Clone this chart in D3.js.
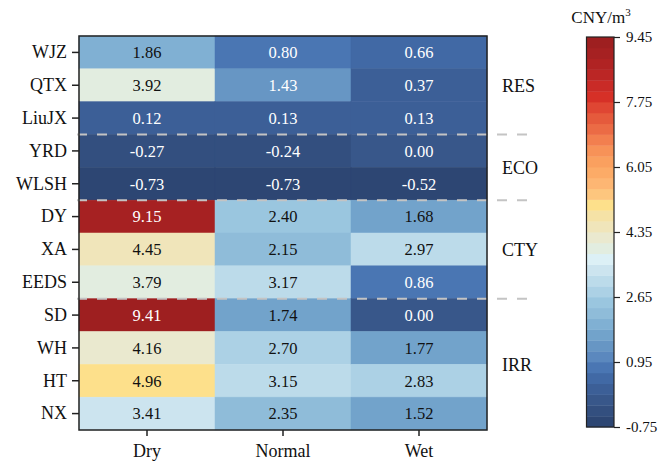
<!DOCTYPE html>
<html>
<head>
<meta charset="utf-8">
<script src="https://cdn.jsdelivr.net/npm/d3@7"></script>
<style>
  html, body { margin: 0; padding: 0; background: #fff; }
  svg { display: block; }
  text { font-family: "Liberation Serif", "Times New Roman", serif; }
</style>
</head>
<body>
<svg id="chart" width="672" height="464"></svg>
<script>
// ---------- data ----------
const rows = ["WJZ", "QTX", "LiuJX", "YRD", "WLSH", "DY", "XA", "EEDS", "SD", "WH", "HT", "NX"];
const cols = ["Dry", "Normal", "Wet"];
const dryValues    = [1.86, 3.92, 0.12, -0.27, -0.73, 9.15, 4.45, 3.79, 9.41, 4.16, 4.96, 3.41];
const normalValues = [0.80, 1.43, 0.13, -0.24, -0.73, 2.40, 2.15, 3.17, 1.74, 2.70, 3.15, 2.35];
const wetValues    = [0.66, 0.37, 0.13, 0.00, -0.52, 1.68, 2.97, 0.86, 0.00, 1.77, 2.83, 1.52];
const groups = ["RES", "ECO", "CTY", "IRR"];
const groupSizes = [3, 2, 3, 4];
const colorbarTicks = [9.45, 7.75, 6.05, 4.35, 2.65, 0.95, -0.75];
const colorbarTitle = "CNY/m";
const vmin = -0.75, vmax = 9.45;

// discrete palette, lowest level first (36 levels)
const palette = [
  "#2d4673", "#334f7f", "#38578a", "#3c5f97", "#4169a5", "#4a76b3",
  "#5b88be", "#6796c4", "#72a3cb", "#80b0d3", "#8fbcd9", "#9ac6df",
  "#acd1e5", "#bcdbea", "#cce4ef", "#dcf0f6", "#e2ede0", "#eae9cf",
  "#f0e5ba", "#f5e2a6", "#fde08b", "#fdc67e", "#fdb673", "#fcab67",
  "#faa05f", "#f79258", "#f27f4f", "#eb6b45", "#e55a3c", "#df4633",
  "#d63027", "#c92b27", "#bb2625", "#b02323", "#a62122", "#9e1f20"
];
const nLevels = palette.length;

// ---------- setup ----------
const svg = d3.select("#chart");
const pLeft = 79, pRight = 487, pTop = 36, pBottom = 430;
const x = d3.scaleBand().domain(cols).range([pLeft, pRight]);
const y = d3.scaleBand().domain(rows).range([pTop, pBottom]);
const binW = (vmax - vmin) / nLevels;
const color = d3.scaleQuantize().domain([vmin, vmax]).range(palette);

function luminance(c) {
  const rgb = d3.rgb(c);
  const f = u => { u /= 255; return u <= 0.03928 ? u / 12.92 : Math.pow((u + 0.055) / 1.055, 2.4); };
  return 0.2126 * f(rgb.r) + 0.7152 * f(rgb.g) + 0.0722 * f(rgb.b);
}

const seriesByCol = { Dry: dryValues, Normal: normalValues, Wet: wetValues };
const cells = [];
cols.forEach(c => rows.forEach((r, i) => cells.push({ col: c, row: r, value: seriesByCol[c][i] })));

// ---------- cells ----------
const g = svg.append("g");
g.selectAll("rect.cell").data(cells).enter().append("rect")
  .attr("class", "cell")
  .attr("x", d => x(d.col)).attr("y", d => y(d.row))
  .attr("width", x.bandwidth()).attr("height", y.bandwidth())
  .attr("fill", d => color(d.value))
  .attr("stroke", d => color(d.value)).attr("stroke-width", 0.5);

g.selectAll("text.val").data(cells).enter().append("text")
  .attr("class", "val")
  .attr("x", d => x(d.col) + x.bandwidth() / 2)
  .attr("y", d => y(d.row) + y.bandwidth() / 2)
  .attr("dy", "0.35em")
  .attr("text-anchor", "middle")
  .attr("font-size", 16.5)
  .attr("fill", d => luminance(color(d.value)) < 0.31 ? "#ffffff" : "#111111")
  .text(d => d.value.toFixed(2));

// ---------- group separators & labels ----------
let cum = 0;
const groupInfo = groups.map((name, i) => {
  const start = cum; cum += groupSizes[i];
  return { name, start, end: cum - 1 };
});
groupInfo.slice(1).forEach(gi => {
  const yy = y(rows[gi.start]);
  svg.append("line")
    .attr("x1", pLeft - 2).attr("x2", 528)
    .attr("y1", yy).attr("y2", yy)
    .attr("stroke", "#c4c4c4").attr("stroke-width", 2)
    .attr("stroke-dasharray", "10,10");
});
groupInfo.forEach(gi => {
  const yc = (y(rows[gi.start]) + y(rows[gi.end]) + y.bandwidth()) / 2;
  svg.append("text")
    .attr("x", 502).attr("y", yc).attr("dy", "0.35em")
    .attr("font-size", 18).attr("fill", "#111")
    .text(gi.name);
});

// ---------- frame ----------
svg.append("rect")
  .attr("x", pLeft).attr("y", pTop).attr("width", pRight - pLeft).attr("height", pBottom - pTop)
  .attr("fill", "none").attr("stroke", "#222").attr("stroke-width", 1.5);

// ---------- axes ----------
const yAxis = svg.append("g").attr("transform", `translate(${pLeft},0)`)
  .call(d3.axisLeft(y).tickSize(7).tickPadding(5));
yAxis.select(".domain").remove();
yAxis.selectAll("line").attr("stroke", "#222").attr("stroke-width", 1.5);
yAxis.selectAll("text").attr("font-size", 18).attr("fill", "#111")
  .attr("font-family", "'Liberation Serif', 'Times New Roman', serif");

const xAxis = svg.append("g").attr("transform", `translate(0,${pBottom})`)
  .call(d3.axisBottom(x).tickSize(6).tickPadding(8));
xAxis.select(".domain").remove();
xAxis.selectAll("line").attr("stroke", "#222").attr("stroke-width", 1.5);
xAxis.selectAll("text").attr("font-size", 18).attr("fill", "#111")
  .attr("font-family", "'Liberation Serif', 'Times New Roman', serif");

// ---------- colorbar ----------
const cbLeft = 586.5, cbRight = 614, cbTop = 37, cbBottom = 427;
const cbY = d3.scaleLinear().domain([vmin, vmax]).range([cbBottom, cbTop]);
const bins = d3.range(nLevels);
svg.append("g").selectAll("rect").data(bins).enter().append("rect")
  .attr("x", cbLeft).attr("width", cbRight - cbLeft)
  .attr("y", i => cbY(vmin + (i + 1) * binW))
  .attr("height", i => cbY(vmin + i * binW) - cbY(vmin + (i + 1) * binW) + 0.4)
  .attr("fill", i => palette[i]);
svg.append("rect")
  .attr("x", cbLeft).attr("y", cbTop).attr("width", cbRight - cbLeft).attr("height", cbBottom - cbTop)
  .attr("fill", "none").attr("stroke", "#222").attr("stroke-width", 1.2);
const cbAxis = svg.append("g").attr("transform", `translate(${cbRight},0)`)
  .call(d3.axisRight(cbY).tickValues(colorbarTicks).tickFormat(d => d.toFixed(2)).tickSize(6).tickPadding(6));
cbAxis.select(".domain").remove();
cbAxis.selectAll("line").attr("stroke", "#222").attr("stroke-width", 1.2);
cbAxis.selectAll("text").attr("font-size", 15).attr("fill", "#111")
  .attr("font-family", "'Liberation Serif', 'Times New Roman', serif");

const title = svg.append("text")
  .attr("x", 601).attr("y", 23).attr("text-anchor", "middle")
  .attr("font-size", 17).attr("fill", "#111");
title.append("tspan").text(colorbarTitle);
title.append("tspan").attr("font-size", 11).attr("dy", -7).text("3");
</script>
</body>
</html>
